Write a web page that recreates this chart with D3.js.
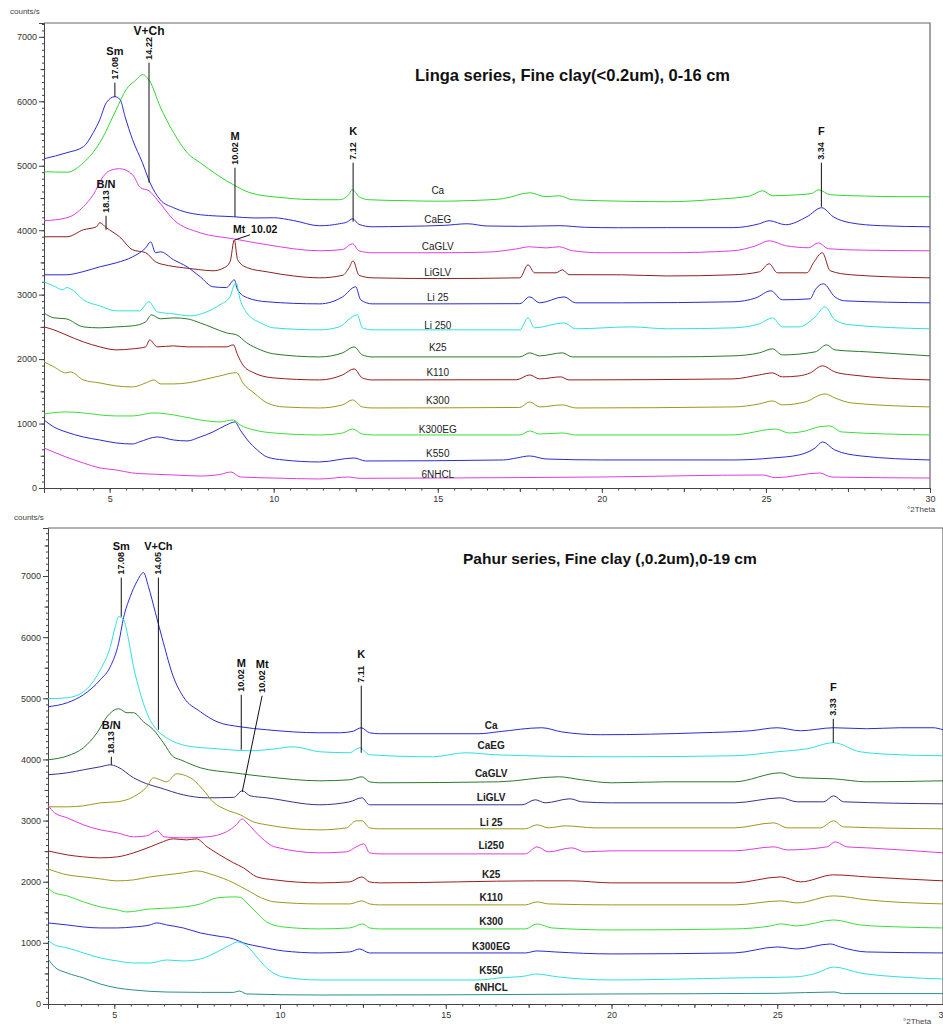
<!DOCTYPE html>
<html lang="en">
<head>
<meta charset="UTF-8">
<title>XRD patterns - Linga and Pahur series, fine clay</title>
<script src="https://d3js.org/d3.v7.min.js"></script>
<style>
  body { margin: 0; background: #fff; }
  svg text { font-family: "Liberation Sans", Arial, sans-serif; }
</style>
</head>
<body>
<div id="chart"></div>
<script>
// ---- Linga series (top panel), [°2Theta, counts/s] ----
const lingaCa = [[3,4907],[3.7,4900],[4.2,5047],[4.7,5358],[5.2,5870],[5.5,6181],[5.8,6330],[6.0,6414],[6.23,6305],[6.54,5917],[6.95,5513],[7.36,5203],[7.76,5047],[8.27,4861],[8.77,4706],[9.28,4581],[10.3,4503],[11.4,4473],[12.0,4473],[12.25,4530],[12.4,4628],[12.6,4520],[12.9,4473],[14,4458],[15,4450],[16,4460],[17,4490],[17.8,4581],[18.3,4520],[18.7,4535],[19.1,4473],[20,4457],[22,4442],[23.5,4480],[24.5,4530],[24.9,4612],[25.2,4535],[26.0,4550],[26.4,4570],[26.6,4628],[26.96,4550],[28,4530],[29,4520],[30,4519]];
const lingaCaEG = [[3,5109],[3.7,5203],[4.2,5296],[4.5,5513],[4.7,5715],[4.9,5979],[5.16,6072],[5.32,6026],[5.47,5762],[5.7,5404],[6.0,5047],[6.23,4737],[6.54,4473],[6.95,4349],[7.76,4240],[8.77,4209],[9.4,4190],[10.0,4193],[10.6,4150],[11.4,4069],[12.0,4100],[12.25,4130],[12.4,4178],[12.6,4090],[13,4053],[14,4060],[15.2,4075],[15.9,4100],[16.5,4065],[17.5,4060],[18.7,4070],[19.5,4045],[20.5,4038],[22,4040],[24,4040],[24.8,4100],[25.1,4147],[25.6,4085],[26.25,4209],[26.7,4349],[27.05,4209],[27.57,4116],[28.5,4070],[30,4053]];
const lingaCaGLV = [[3,4147],[3.7,4193],[4.2,4364],[4.5,4550],[4.8,4830],[5.0,4923],[5.3,4954],[5.7,4861],[5.94,4659],[6.2,4612],[6.45,4473],[6.95,4162],[7.76,3960],[8.77,3867],[9.8,3774],[11.4,3681],[12.1,3700],[12.4,3790],[12.6,3680],[13,3650],[15,3650],[16.5,3660],[17.4,3710],[17.8,3743],[18.3,3725],[18.7,3743],[19.1,3681],[20,3650],[22,3650],[24,3681],[24.7,3760],[25.1,3836],[25.6,3760],[26.3,3728],[26.6,3805],[26.9,3712],[28,3690],[30,3681]];
const lingaLiGLV = [[3,3898],[3.7,3898],[4.2,4007],[4.6,4053],[4.7,4116],[4.9,4038],[5.3,3898],[5.7,3696],[6.1,3650],[6.4,3510],[6.8,3450],[7.25,3417],[7.7,3390],[8.15,3370],[8.5,3420],[8.67,3510],[8.8,3850],[8.9,3541],[9.2,3417],[9.8,3354],[10.6,3290],[11.4,3261],[12.1,3300],[12.3,3420],[12.42,3525],[12.6,3300],[13,3261],[15,3250],[17.5,3261],[17.75,3463],[17.95,3339],[18.6,3339],[18.8,3385],[19.0,3310],[20.6,3308],[22,3290],[24,3308],[24.8,3354],[25.1,3479],[25.35,3339],[26.25,3339],[26.45,3495],[26.72,3650],[26.96,3370],[27.6,3308],[30,3261]];
const lingaLi25 = [[3,3308],[3.67,3308],[4.17,3354],[4.7,3432],[5.2,3494],[5.7,3587],[6.1,3727],[6.25,3820],[6.4,3650],[6.55,3665],[6.95,3541],[7.36,3432],[7.76,3277],[8.15,3122],[8.56,3110],[8.8,3230],[8.9,3075],[9.2,2951],[9.8,2889],[11.4,2857],[12.1,2966],[12.5,3122],[12.65,2920],[13,2857],[15,2857],[17.5,2860],[17.8,2966],[18.1,2873],[18.85,2966],[19.2,2873],[20.6,2873],[24,2889],[24.7,2951],[25.15,3060],[25.5,2920],[26.35,2935],[26.5,3075],[26.75,3168],[27.1,2966],[27.4,2904],[30,2873]];
const lingaLi250 = [[3,3199],[3.35,3122],[3.55,3075],[3.7,3110],[3.9,3060],[4.2,2920],[4.7,2826],[5.2,2749],[5.9,2749],[6.2,2889],[6.45,2733],[6.95,2702],[7.46,2671],[7.96,2733],[8.36,2842],[8.67,2966],[8.77,3122],[8.85,3184],[8.98,2920],[9.18,2718],[9.6,2562],[10.0,2485],[11.4,2454],[12.0,2500],[12.35,2640],[12.55,2687],[12.7,2485],[13,2454],[17.5,2454],[17.75,2640],[17.95,2485],[18.85,2562],[19.2,2470],[20.9,2500],[22,2470],[24,2485],[24.8,2547],[25.2,2640],[25.5,2500],[26.0,2500],[26.5,2656],[26.8,2811],[27.1,2609],[27.6,2530],[30,2470]];
const lingaK25 = [[3,2718],[3.3,2640],[3.67,2625],[4.2,2500],[4.7,2485],[5.2,2500],[5.7,2516],[6.1,2578],[6.27,2687],[6.55,2625],[6.95,2640],[7.36,2625],[7.76,2562],[8.15,2485],[8.56,2407],[8.87,2376],[9.18,2252],[9.6,2143],[10.0,2081],[11.4,2034],[12.1,2097],[12.45,2190],[12.7,2065],[13,2034],[17.5,2034],[17.8,2097],[18.1,2050],[18.8,2097],[19.1,2034],[22,2034],[24,2050],[24.8,2097],[25.2,2159],[25.5,2065],[26.5,2112],[26.85,2221],[27.1,2143],[28.1,2112],[30,2050]];
const lingaK110 = [[3,2500],[3.3,2454],[3.67,2376],[4.2,2267],[4.7,2190],[5.2,2143],[5.7,2159],[6.1,2190],[6.22,2298],[6.45,2190],[6.95,2205],[7.36,2190],[7.96,2190],[8.56,2190],[8.77,2221],[8.9,2065],[9.06,1910],[9.4,1786],[10.0,1708],[11.4,1677],[12.1,1755],[12.45,1848],[12.7,1708],[13,1677],[17.4,1680],[17.8,1755],[18.1,1693],[18.75,1724],[19.0,1677],[24,1693],[24.8,1755],[25.2,1786],[25.5,1724],[26.0,1739],[26.35,1786],[26.72,1895],[27.1,1801],[27.6,1755],[30,1677]];
const lingaK300 = [[3,1957],[3.3,1880],[3.67,1786],[3.8,1800],[4.2,1677],[4.7,1630],[5.2,1584],[5.7,1568],[6.1,1630],[6.35,1677],[6.55,1615],[6.95,1615],[7.36,1630],[7.96,1693],[8.36,1739],[8.77,1786],[8.87,1790],[9.06,1630],[9.4,1475],[9.8,1320],[10.3,1258],[11.4,1242],[12.1,1290],[12.4,1367],[12.7,1258],[13,1242],[17.5,1250],[17.8,1336],[18.1,1258],[18.8,1290],[19.2,1242],[24,1258],[24.8,1305],[25.2,1351],[25.5,1290],[26.2,1336],[26.8,1460],[27.1,1398],[27.6,1320],[30,1258]];
const lingaK300EG = [[3,1149],[3.67,1180],[4.2,1165],[4.7,1134],[5.2,1118],[5.7,1118],[6.35,1165],[6.95,1134],[7.76,1056],[8.36,1025],[8.77,1056],[8.98,978],[9.4,901],[10.0,854],[11.4,823],[12.1,854],[12.4,916],[12.7,838],[13,823],[17.5,823],[17.8,885],[18.1,838],[18.8,854],[19.2,823],[24,823],[25.3,916],[25.7,854],[26.2,885],[26.6,947],[26.95,963],[27.3,870],[30,823]];
const lingaK550 = [[3,1056],[3.3,947],[3.67,870],[4.2,792],[4.7,745],[5.2,699],[5.7,683],[5.9,714],[6.45,792],[6.95,745],[7.36,730],[7.76,792],[8.15,870],[8.56,978],[8.82,1025],[8.98,901],[9.2,745],[9.5,590],[9.8,481],[10.3,435],[11.4,404],[12.45,466],[12.8,419],[17.0,435],[17.4,466],[17.8,497],[18.3,450],[20,435],[24,435],[25.2,466],[26.0,512],[26.5,621],[26.72,714],[27.1,590],[27.9,497],[30,435]];
const lingaHCl = [[3,621],[3.67,481],[4.2,388],[4.7,311],[5.2,280],[5.7,233],[6.2,217],[6.95,202],[7.76,186],[8.36,210],[8.7,248],[8.98,171],[10,155],[11.4,140],[12.3,171],[12.6,150],[15,155],[20,171],[24.9,202],[25.3,160],[26.65,233],[27.0,170],[30,155]];

// ---- Pahur series (bottom panel), [°2Theta, counts/s] ----
const pahurCa = [[3,4862],[3.58,4927],[4.07,5058],[4.58,5304],[4.88,5517],[5.13,5900],[5.28,6319],[5.48,6663],[5.68,6908],[5.88,7055],[6.03,6826],[6.24,6401],[6.48,5910],[6.78,5353],[7.08,5026],[7.6,4780],[8.1,4616],[8.8,4534],[9.6,4485],[11.2,4436],[11.8,4436],[12.2,4460],[12.45,4518],[12.7,4436],[13,4420],[16.0,4420],[16.6,4453],[17.9,4518],[18.5,4450],[19.66,4404],[22.7,4436],[24.2,4469],[25.0,4518],[25.7,4469],[26.7,4518],[27.7,4502],[28.7,4518],[29.7,4518],[30,4485]];
const pahurCaEG = [[3,4993],[3.58,5009],[4.07,5107],[4.58,5467],[4.88,5844],[5.03,6171],[5.13,6335],[5.28,6286],[5.43,5959],[5.58,5517],[5.78,5091],[5.98,4764],[6.28,4485],[6.58,4354],[7.18,4223],[8.1,4174],[9.1,4142],[9.8,4170],[10.4,4207],[11.2,4125],[12.1,4109],[12.4,4191],[12.7,4076],[14.6,4043],[15.6,4109],[16.5,4076],[20,4043],[23.7,4060],[25.0,4125],[25.9,4174],[26.7,4273],[27.5,4125],[28.7,4076],[30,4060]];
const pahurCaGLV = [[3,3994],[3.6,4060],[4.07,4191],[4.48,4436],[4.78,4698],[5.13,4829],[5.38,4764],[5.58,4764],[5.88,4616],[6.18,4485],[6.48,4273],[6.78,4043],[7.0,3994],[7.6,3863],[8.6,3781],[9.6,3716],[11.2,3650],[12.1,3667],[12.47,3716],[12.7,3634],[13,3618],[16.6,3634],[18.4,3716],[19.1,3667],[20,3618],[21.7,3634],[23.7,3634],[25.1,3781],[25.5,3716],[25.7,3700],[26.7,3683],[27.7,3634],[30,3650]];
const pahurLiGLV = [[3,3749],[3.58,3781],[4.07,3830],[4.58,3880],[4.88,3912],[5.09,3880],[5.58,3700],[5.98,3601],[6.38,3536],[7.08,3421],[7.8,3372],[8.6,3380],[8.86,3487],[9.1,3405],[9.6,3372],[11.2,3258],[12.1,3307],[12.47,3372],[12.7,3258],[17.3,3258],[17.7,3340],[18.0,3290],[18.75,3356],[19.1,3307],[20,3290],[23.7,3290],[25.1,3372],[25.6,3307],[26.4,3307],[26.7,3405],[27.0,3307],[30,3274]];
const pahurLi25 = [[3,3225],[3.58,3225],[4.07,3241],[4.58,3290],[5.09,3307],[5.58,3389],[5.98,3552],[6.18,3700],[6.38,3667],[6.58,3634],[6.88,3765],[7.08,3749],[7.38,3667],[7.68,3503],[7.98,3307],[8.38,3176],[8.8,3094],[9.2,2979],[9.6,2930],[11.2,2848],[12.0,2881],[12.3,2996],[12.47,2996],[12.7,2881],[13,2865],[17.4,2865],[17.75,2930],[18.1,2881],[18.6,2914],[19.5,2881],[23.7,2881],[24.9,2963],[25.3,2881],[26.3,2881],[26.7,2996],[27.0,2897],[30,2865]];
const pahurLi250 = [[3,3250],[3.2,3127],[3.58,3045],[4.07,2930],[4.58,2848],[5.09,2799],[5.58,2734],[5.98,2750],[6.3,2832],[6.5,2734],[7.08,2717],[7.8,2734],[8.38,2816],[8.68,2930],[8.86,3028],[9.0,2963],[9.44,2717],[9.84,2570],[11.2,2472],[12.0,2488],[12.3,2570],[12.53,2619],[12.7,2472],[13,2455],[17.4,2455],[17.75,2570],[18.1,2488],[18.8,2554],[19.2,2488],[20,2505],[23.7,2505],[24.9,2570],[25.3,2520],[26.5,2570],[26.75,2652],[27.1,2570],[27.7,2554],[30,2472]];
const pahurK25 = [[3,2505],[3.58,2439],[4.07,2406],[4.58,2390],[5.09,2406],[5.58,2472],[6.08,2570],[6.38,2635],[6.78,2701],[7.18,2684],[7.48,2701],[7.8,2570],[8.18,2439],[8.6,2308],[8.9,2226],[9.3,2079],[9.84,2030],[11.2,1981],[12.1,1997],[12.47,2079],[12.7,1997],[13,1981],[17.7,2014],[18.8,2014],[20,1981],[23.7,1981],[25.1,2079],[25.7,1997],[26.7,2112],[27.7,2079],[30,2014]];
const pahurK110 = [[3,2210],[3.58,2112],[4.07,2079],[4.58,2046],[5.09,2014],[5.58,2030],[6.08,2079],[6.58,2112],[7.08,2145],[7.48,2177],[7.98,2112],[8.6,1981],[9.0,1866],[9.44,1735],[9.84,1670],[11.2,1637],[12.1,1637],[12.47,1686],[12.7,1637],[13,1621],[17.4,1621],[17.75,1670],[18.1,1637],[20,1621],[23.7,1621],[25.1,1686],[25.6,1654],[26.7,1768],[27.7,1703],[30,1637]];
const pahurK300 = [[3,1899],[3.2,1817],[3.58,1768],[4.07,1670],[4.58,1588],[5.09,1539],[5.38,1506],[6.08,1555],[6.78,1572],[7.6,1637],[8.1,1735],[8.6,1752],[8.8,1745],[9.0,1653],[9.3,1490],[9.6,1342],[10.1,1260],[11.2,1228],[12.1,1244],[12.5,1310],[12.7,1244],[13,1228],[17.4,1228],[17.75,1310],[18.2,1244],[20,1211],[23.7,1228],[24.8,1277],[25.1,1310],[25.6,1277],[26.7,1375],[27.5,1293],[28.7,1260],[30,1244]];
const pahurK300EG = [[3,1326],[3.58,1293],[4.07,1260],[4.58,1244],[5.09,1244],[5.58,1260],[6.08,1293],[6.28,1326],[6.58,1293],[7.08,1244],[7.6,1162],[8.1,1113],[8.6,1064],[8.9,999],[9.44,933],[10.1,868],[11.2,835],[12.1,851],[12.4,900],[12.7,835],[17.4,835],[17.75,868],[18.3,851],[20,819],[23.7,835],[25.0,933],[25.6,900],[26.6,982],[26.9,933],[27.7,851],[30,835]];
const pahurK550 = [[3,1048],[3.2,966],[3.58,917],[4.07,835],[4.58,753],[5.09,704],[5.58,671],[6.08,671],[6.58,720],[7.08,704],[7.6,737],[8.1,851],[8.5,966],[8.72,1015],[9.0,949],[9.3,769],[9.6,589],[10.1,442],[11.2,393],[16.0,393],[16.6,426],[17.4,458],[17.7,491],[18.4,442],[19.1,409],[20,393],[23.7,426],[25.5,442],[26.2,507],[26.7,605],[27.5,507],[28.7,442],[30,409]];
const pahurHCl = [[3,737],[3.2,605],[3.58,507],[4.07,426],[4.58,327],[5.09,262],[5.58,229],[6.58,196],[7.6,190],[8.6,190],[8.77,213],[9.0,164],[11.2,147],[15,150],[20,164],[25,175],[26.7,196],[27,170],[30,170]];

// treatment names, top to bottom
const lingaNames = ["Ca", "CaEG", "CaGLV", "LiGLV", "Li 25", "Li 250", "K25", "K110", "K300", "K300EG", "K550", "6NHCL"];
const pahurNames = ["Ca", "CaEG", "CaGLV", "LiGLV", "Li 25", "Li250", "K25", "K110", "K300", "K300EG", "K550", "6NHCL"];

// peak markers: name, d-spacing (Å), °2Theta, line top / bottom (counts)
const lingaPeaks = [
  ["Sm", "17.08", 5.16, 6290, 6072],
  ["V+Ch", "14.22", 6.2, 6600, 4737],
  ["B/N", "18.13", 4.89, 4224, 4007],
  ["M", "10.02", 8.82, 4970, 4209],
  ["K", "7.12", 12.42, 5047, 4131],
  ["F", "3.34", 26.69, 5047, 4364]
];
const pahurPeaks = [
  ["Sm", "17.08", 5.21, 6974, 6335],
  ["V+Ch", "14.05", 6.33, 6974, 4485],
  ["B/N", "18.13", 4.91, 4043, 3912],
  ["M", "10.02", 8.83, 5058, 4158],
  ["K", "7.11", 12.45, 5206, 4109],
  ["F", "3.33", 26.69, 4665, 4273]
];

const width = 943, height = 1025;
const svg = d3.select("#chart").append("svg")
  .attr("width", width)
  .attr("height", height);

const panels = [
  {
    series: [lingaCa, lingaCaEG, lingaCaGLV, lingaLiGLV, lingaLi25, lingaLi250, lingaK25, lingaK110, lingaK300, lingaK300EG, lingaK550, lingaHCl],
    names: lingaNames,
    colors: ["#2fd82f", "#2b2bd4", "#e03ce0", "#8c2020", "#2b2bd4", "#30e0e0", "#2b7a2b", "#9a1c1c", "#9a9a1e", "#3ae03a", "#2b2bd4", "#e03ce0"],
    labelX: 15.0,
    labelY: [4612, 4162, 3743, 3339, 2951, 2516, 2174, 1786, 1351, 901, 528, 202],
    labelBold: false,
    peaks: lingaPeaks,
    mt: { at: [8.82, 3850], to: [9.28, 3929], text: "Mt  10.02", rotated: false },
    title: "Linga series, Fine clay(<0.2um), 0-16 cm",
    titleX: 415, titleY: 81, titleSize: 16.5,
    left: 44, right: 930, top: 23, bottom: 488, yMax: 7215,
    unitsY: 14, thetaX: 907, thetaY: 512
  },
  {
    series: [pahurCa, pahurCaEG, pahurCaGLV, pahurLiGLV, pahurLi25, pahurLi250, pahurK25, pahurK110, pahurK300, pahurK300EG, pahurK550, pahurHCl],
    names: pahurNames,
    colors: ["#2b2bd4", "#30e0e0", "#2b7a2b", "#33338f", "#9a9a1e", "#e03ce0", "#9a1c1c", "#9a9a1e", "#3ae03a", "#2b2bd4", "#30e0e0", "#2a8f8f"],
    labelX: 16.37,
    labelY: [4551, 4223, 3765, 3372, 2963, 2586, 2112, 1735, 1342, 933, 540, 262],
    labelBold: true,
    peaks: pahurPeaks,
    mt: { at: [8.86, 3470], to: [9.46, 5042], text: "Mt", d: "10.02", rotated: true },
    title: "Pahur series, Fine clay (,0.2um),0-19 cm",
    titleX: 463, titleY: 564, titleSize: 15.5,
    left: 48, right: 943, top: 528, bottom: 1004, yMax: 7785,
    unitsY: 520, thetaX: 903, thetaY: 1024
  }
];

panels.forEach(drawPanel);

function drawPanel(p) {
  const x = d3.scaleLinear().domain([3, 30]).range([p.left, p.right]);
  const y = d3.scaleLinear().domain([0, p.yMax]).range([p.bottom, p.top]);
  const g = svg.append("g");

  // frame (top and right)
  g.append("path")
    .attr("d", `M${p.left},${p.top}H${p.right}V${p.bottom}`)
    .attr("fill", "none")
    .attr("stroke", "#666")
    .attr("stroke-width", 1.2);

  // y axis: minor / mid / major ticks
  const yMinor = d3.range(0, p.yMax, 100);
  g.append("g").attr("transform", `translate(${p.left},0)`)
    .call(d3.axisLeft(y).tickValues(yMinor).tickSize(2).tickFormat(""))
    .call(a => a.select(".domain").remove());
  g.append("g").attr("transform", `translate(${p.left},0)`)
    .call(d3.axisLeft(y).tickValues(d3.range(500, p.yMax, 1000)).tickSize(3.5).tickFormat(""))
    .call(a => a.select(".domain").remove());
  g.append("g").attr("transform", `translate(${p.left},0)`)
    .call(d3.axisLeft(y).tickValues(d3.range(0, 7001, 1000)).tickSize(5).tickPadding(2).tickFormat(d3.format("d")))
    .call(a => a.select(".domain").attr("stroke", "#444"));

  // x axis
  g.append("g").attr("transform", `translate(0,${p.bottom})`)
    .call(d3.axisBottom(x).tickValues(d3.range(3.5, 30.01, 0.5)).tickSize(2.5).tickFormat(""))
    .call(a => a.select(".domain").remove());
  g.append("g").attr("transform", `translate(0,${p.bottom})`)
    .call(d3.axisBottom(x).tickValues([7.5, 12.5, 17.5, 22.5, 27.5]).tickSize(4).tickFormat(""))
    .call(a => a.select(".domain").remove());
  g.append("g").attr("transform", `translate(0,${p.bottom})`)
    .call(d3.axisBottom(x).tickValues([5, 10, 15, 20, 25, 30]).tickSize(5).tickPadding(3).tickFormat(d3.format("d")))
    .call(a => a.select(".domain").attr("stroke", "#444"));

  g.selectAll(".tick line").attr("stroke", "#444");
  g.selectAll(".tick text").attr("fill", "#333").style("font-size", "9px");

  g.append("text").attr("x", p.left - 34).attr("y", p.unitsY)
    .attr("fill", "#444").style("font-size", "8px").text("counts/s");
  g.append("text").attr("x", p.thetaX).attr("y", p.thetaY)
    .attr("fill", "#444").style("font-size", "8px").text("°2Theta");

  // traces
  const line = d3.line()
    .x(d => x(d[0]))
    .y(d => y(d[1]))
    .curve(d3.curveMonotoneX);

  g.selectAll(".trace").data(p.series).join("path")
    .attr("class", "trace")
    .attr("d", line)
    .attr("fill", "none")
    .attr("stroke", (d, i) => p.colors[i])
    .attr("stroke-width", 1);

  // treatment labels
  g.selectAll(".lab").data(p.names).join("text")
    .attr("class", "lab")
    .attr("x", x(p.labelX))
    .attr("y", (d, i) => y(p.labelY[i]))
    .attr("dy", "0.35em")
    .attr("text-anchor", "middle")
    .attr("fill", "#222")
    .style("font-size", "10px")
    .style("font-weight", p.labelBold ? "bold" : "normal")
    .text(d => d);

  // peak markers
  p.peaks.forEach(([name, dval, th, top, bot]) => {
    const px = x(th), py = y(top);
    g.append("line")
      .attr("x1", px).attr("x2", px)
      .attr("y1", py).attr("y2", y(bot))
      .attr("stroke", "#111").attr("stroke-width", 1);
    g.append("text")
      .attr("transform", `translate(${px + 3},${py - 3}) rotate(-90)`)
      .attr("fill", "#111")
      .style("font-size", "9px").style("font-weight", "bold")
      .text(dval);
    g.append("text")
      .attr("x", px).attr("y", py - 28)
      .attr("text-anchor", "middle")
      .attr("fill", "#111")
      .style("font-size", name === "V+Ch" && !p.labelBold ? "12px" : "11px")
      .style("font-weight", "bold")
      .text(name);
  });

  // Mt marker, drawn with a slanted leader
  const m = p.mt;
  g.append("line")
    .attr("x1", x(m.at[0])).attr("y1", y(m.at[1]))
    .attr("x2", x(m.to[0])).attr("y2", y(m.to[1]))
    .attr("stroke", "#111").attr("stroke-width", 1);
  if (m.rotated) {
    const px = x(m.to[0]), py = y(m.to[1]);
    g.append("text")
      .attr("transform", `translate(${px + 3},${py - 3}) rotate(-90)`)
      .attr("fill", "#111")
      .style("font-size", "9px").style("font-weight", "bold")
      .text(m.d);
    g.append("text")
      .attr("x", px).attr("y", py - 28)
      .attr("text-anchor", "middle")
      .attr("fill", "#111")
      .style("font-size", "11px").style("font-weight", "bold")
      .text(m.text);
  } else {
    g.append("text")
      .attr("x", x(m.at[0]) - 2).attr("y", y(m.to[1]) - 2)
      .attr("fill", "#111")
      .style("font-size", "10.5px").style("font-weight", "bold")
      .attr("xml:space", "preserve")
      .text(m.text);
  }

  // title
  g.append("text")
    .attr("x", p.titleX).attr("y", p.titleY)
    .attr("fill", "#111")
    .style("font-size", p.titleSize + "px")
    .style("font-weight", "bold")
    .text(p.title);
}
</script>
</body>
</html>
